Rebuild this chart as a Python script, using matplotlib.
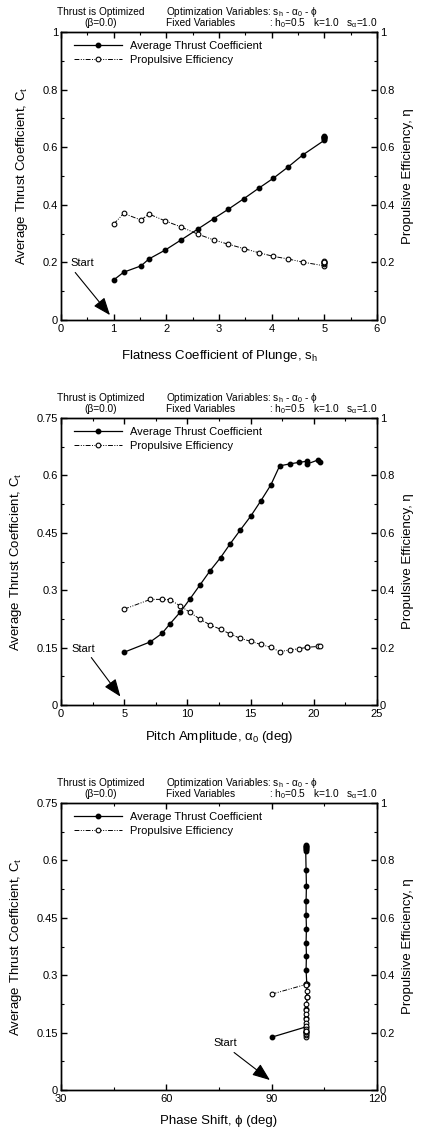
import numpy as np
import matplotlib
matplotlib.use('Agg')
import matplotlib.pyplot as plt
from matplotlib.lines import Line2D
from matplotlib.ticker import MultipleLocator

plt.rcParams['font.family'] = ['Liberation Sans', 'DejaVu Sans']
plt.rcParams['mathtext.fontset'] = 'custom'
plt.rcParams['mathtext.rm'] = 'Liberation Sans'
plt.rcParams['mathtext.it'] = 'Liberation Sans:italic'
plt.rcParams['mathtext.default'] = 'regular'

# panel 1 : flatness coefficient of plunge
sh = [1.0, 1.19, 1.52, 1.67, 1.98, 2.28, 2.60, 2.90, 3.18, 3.47, 3.75, 4.03, 4.31, 4.59,
      5.0, 5.0, 5.0, 5.0, 5.0, 5.0, 5.0]
ct1 = [0.139, 0.166, 0.188, 0.212, 0.243, 0.278, 0.316, 0.352, 0.385, 0.421, 0.457, 0.492,
       0.531, 0.573, 0.624, 0.630, 0.634, 0.637, 0.631, 0.640, 0.636]
eta1 = [0.333, 0.370, 0.347, 0.368, 0.344, 0.323, 0.298, 0.278, 0.263, 0.248, 0.234, 0.221,
        0.212, 0.201, 0.188, 0.193, 0.197, 0.201, 0.200, 0.204, 0.203]

# panel 2 : pitch amplitude
alpha0 = [5.0, 7.07, 7.99, 8.62, 9.44, 10.2, 11.0, 11.8, 12.62, 13.4, 14.2, 15.0, 15.8,
          16.6, 17.3, 18.1, 18.8, 19.5, 19.5, 20.3, 20.5]
ct2 = [0.138, 0.165, 0.187, 0.212, 0.243, 0.277, 0.314, 0.351, 0.385, 0.422, 0.458, 0.493,
       0.533, 0.575, 0.625, 0.630, 0.634, 0.637, 0.630, 0.640, 0.636]
eta2 = [0.334, 0.368, 0.368, 0.367, 0.345, 0.323, 0.299, 0.279, 0.264, 0.247, 0.232, 0.222,
        0.211, 0.201, 0.186, 0.192, 0.196, 0.201, 0.201, 0.204, 0.204]

# panel 3 : phase shift
phi = [90.0, 99.8, 99.7, 99.9, 100.1, 100.0, 99.8, 99.9, 99.8, 99.9, 99.8, 99.8, 99.9,
       99.8, 99.7, 99.7, 99.8, 99.7, 99.8, 99.7, 99.8]
ct3 = [0.138, 0.165, 0.187, 0.212, 0.243, 0.277, 0.314, 0.351, 0.385, 0.422, 0.458, 0.493,
       0.533, 0.575, 0.625, 0.630, 0.634, 0.637, 0.630, 0.640, 0.636]
eta3 = [0.334, 0.368, 0.368, 0.367, 0.345, 0.323, 0.299, 0.279, 0.264, 0.247, 0.232, 0.222,
        0.211, 0.201, 0.186, 0.192, 0.196, 0.201, 0.201, 0.204, 0.204]

panels = [
    dict(x=sh, ct=ct1, eta=eta1, xlim=(0, 6), xmaj=1, xmin=0.5, ylim=(0, 1), ymaj=0.2, ymin=0.1,
         xlabel='Flatness Coefficient of Plunge, s$_h$', xpad=10,
         start=(0.4, 0.198), tail=(0.27, 0.165), head=(0.93, 0.017), top=32, bottom=320),
    dict(x=alpha0, ct=ct2, eta=eta2, xlim=(0, 25), xmaj=5, xmin=2.5, ylim=(0, 0.75), ymaj=0.15,
         ymin=0.075, xlabel='Pitch Amplitude, α$_0$ (deg)', xpad=7,
         start=(1.8, 0.146), tail=(2.4, 0.124), head=(4.7, 0.022), top=418, bottom=705),
    dict(x=phi, ct=ct3, eta=eta3, xlim=(30, 120), xmaj=30, xmin=15, ylim=(0, 0.75), ymaj=0.15,
         ymin=0.075, xlabel='Phase Shift, ϕ (deg)', xpad=8,
         start=(76.7, 0.123), tail=(79.3, 0.098), head=(89.5, 0.026), top=803, bottom=1090),
]

W, H = 422, 1129
fig = plt.figure(figsize=(W / 100, H / 100), dpi=100)

eta_ls = (0, (5, 1.5, 1, 1.5, 1, 1.5))

for p in panels:
    ax = fig.add_axes([61 / W, 1 - p['bottom'] / H, 316 / W, (p['bottom'] - p['top']) / H])
    ax2 = ax.twinx()

    ax.plot(p['x'], p['ct'], '-', color='black', lw=0.9, marker='o', ms=3.2,
            mfc='black', mec='black', zorder=3)
    ax2.plot(p['x'], p['eta'], linestyle=eta_ls, color='black', lw=0.7, marker='o', ms=3.4,
             mfc='white', mec='black', mew=0.8, zorder=3)

    ax.set_xlim(*p['xlim'])
    ax.set_ylim(*p['ylim'])
    ax2.set_ylim(0, 1)
    ax.xaxis.set_major_locator(MultipleLocator(p['xmaj']))
    ax.xaxis.set_minor_locator(MultipleLocator(p['xmin']))
    ax.yaxis.set_major_locator(MultipleLocator(p['ymaj']))
    ax.yaxis.set_minor_locator(MultipleLocator(p['ymin']))
    ax2.yaxis.set_major_locator(MultipleLocator(0.2))
    ax2.yaxis.set_minor_locator(MultipleLocator(0.1))
    ax.yaxis.set_major_formatter(plt.FuncFormatter(lambda v, pos: ('%g' % round(v, 3))))
    ax2.yaxis.set_major_formatter(plt.FuncFormatter(lambda v, pos: ('%g' % round(v, 3))))

    ax.tick_params(which='both', direction='in', top=True, labelsize=8)
    ax.tick_params(axis='y', pad=2)
    ax.tick_params(axis='x', pad=3)
    ax.tick_params(which='major', length=4, width=1)
    ax.tick_params(which='minor', length=2, width=0.8)
    ax2.tick_params(which='both', direction='in', labelsize=8, pad=2)
    ax2.tick_params(which='major', length=4, width=1)
    ax2.tick_params(which='minor', length=2, width=0.8)
    for a in (ax, ax2):
        for s in a.spines.values():
            s.set_linewidth(1.0)

    ax.set_xlabel(p['xlabel'], fontsize=9.5, labelpad=p['xpad'])
    ax.set_ylabel('Average Thrust Coefficient, C$_t$', fontsize=9.5, labelpad=9)
    ax2.set_ylabel('Propulsive Efficiency, η', fontsize=9.5, labelpad=5)

    # start arrow
    ax.text(p['start'][0], p['start'][1], 'Start', fontsize=8, ha='center', va='center')
    ax.annotate('', xy=p['head'], xytext=p['tail'],
                arrowprops=dict(arrowstyle='-|>,head_length=0.9,head_width=0.35',
                                color='black', lw=0.8, mutation_scale=12,
                                shrinkA=0, shrinkB=0))

    # legend
    h1 = Line2D([], [], color='black', lw=0.9, marker='o', ms=3.2, mfc='black', mec='black')
    h2 = Line2D([], [], color='black', linestyle=eta_ls, lw=0.7, marker='o', ms=3.4,
                mfc='white', mec='black', mew=0.8)
    ax2.legend([h1, h2], ['Average Thrust Coefficient', 'Propulsive Efficiency'],
               loc='upper left', bbox_to_anchor=(0.015, 0.995), frameon=False, fontsize=8,
               handlelength=4.4, handletextpad=0.7, labelspacing=0.35, borderpad=0.2)

    # header text above each panel
    y1 = 1 - (p['top'] - 20) / H
    y2 = 1 - (p['top'] - 9) / H
    fig.text(101 / W, y1, 'Thrust is Optimized', fontsize=7.3, ha='center', va='center')
    fig.text(101 / W, y2, '(β=0.0)', fontsize=7.3, ha='center', va='center')
    fig.text(166 / W, y1, 'Optimization Variables: s$_h$ - α$_0$ - ϕ', fontsize=7.3,
             ha='left', va='center')
    fig.text(166 / W, y2, 'Fixed Variables', fontsize=7.3, ha='left', va='center')
    fig.text(378 / W, y2, ': h$_0$=0.5   k=1.0   s$_α$=1.0', fontsize=7.3,
             ha='right', va='center')

fig.savefig('out.png', dpi=100)
